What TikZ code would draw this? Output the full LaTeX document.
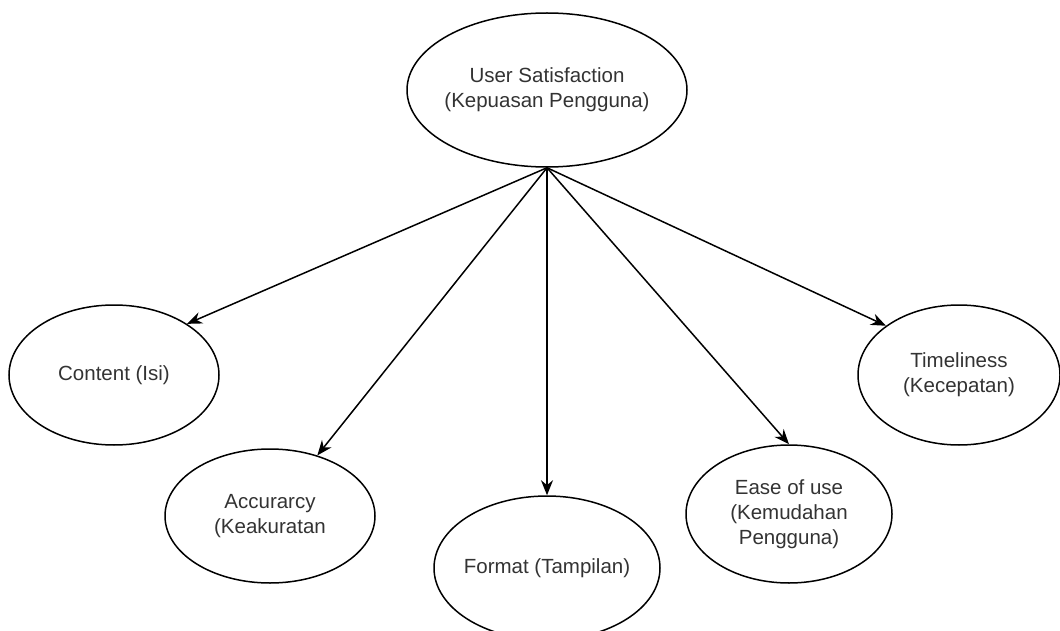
\documentclass[tikz,border=0pt]{standalone}
\usepackage{fontspec}
\setmainfont{Liberation Sans}
\usepackage{tikz}
\usetikzlibrary{positioning, calc, arrows.meta, shapes.geometric}

\tikzset{
  kotak/.style={draw,ellipse,line width=1.5pt,inner sep=-12pt,align=center,
    text=black!80,font=\fontsize{20.5}{25}\selectfont},
  panah/.style={->,>={Stealth[length=15pt,width=12pt]},line width=1.5pt}
}

\begin{document}
\begin{tikzpicture}[x=1pt,y=-1pt]
      \clip (0,0) rectangle (1060,631);%batas
      \node[kotak,minimum width=280pt,minimum height=154pt] (us) at (547,90) {User Satisfaction\\(Kepuasan Pengguna)};
      \node[kotak,minimum width=210pt,minimum height=140pt] (content) at (114,375) {Content (Isi)};
      \node[kotak,minimum width=210pt,minimum height=134pt] (accuracy) at (270,516) {Accurarcy\\(Keakuratan};
      \node[kotak,minimum width=226pt,minimum height=144pt] (format) at (547,568) {Format (Tampilan)};
      \node[kotak,minimum width=206pt,minimum height=138pt] (ease) at (789,514) {Ease of use\\(Kemudahan\\Pengguna)};
      \node[kotak,minimum width=202pt,minimum height=140pt] (timeliness) at (959,375) {Timeliness\\(Kecepatan)};
      \draw[panah] (us.south) -- (content.35);
      \draw[panah] (us.south) -- (accuracy.52);
      \draw[panah] (us.south) -- (format.north);
      \draw[panah] (us.south) -- (ease.north);
      \draw[panah] (us.south) -- (timeliness.146);
    \end{tikzpicture}
\end{document}
